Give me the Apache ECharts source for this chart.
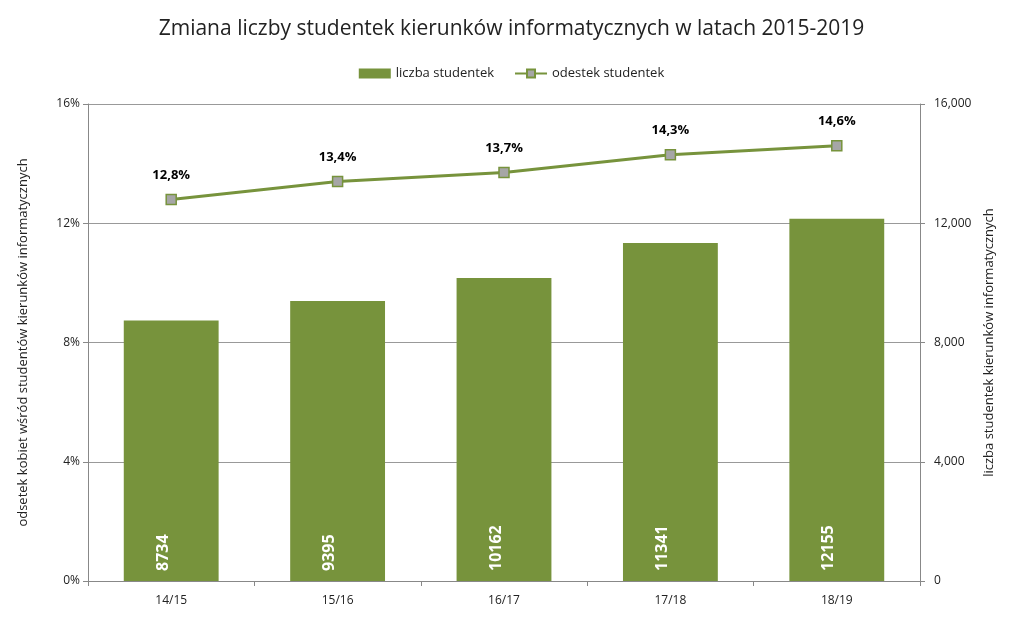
<!DOCTYPE html>
<html><head><meta charset="utf-8">
<script src="https://cdn.jsdelivr.net/npm/echarts@6/dist/echarts.min.js"></script>
<style>html,body{margin:0;padding:0;background:#fff}#c{width:1023px;height:623px}</style>
</head><body><div id="c"></div>
<script>
const categories = ['14/15','15/16','16/17','17/18','18/19'];
const liczba = [8734, 9395, 10162, 11341, 12155];
const odsetek = [12.8, 13.4, 13.7, 14.3, 14.6];
const ff = '"Open Sans", "Noto Sans", sans-serif';
const chart = echarts.init(document.getElementById('c'));
chart.setOption({
  textStyle:{fontFamily:ff},
  title:{text:'Zmiana liczby studentek kierunków informatycznych w latach 2015-2019',left:'center',top:14,
    textStyle:{fontFamily:ff,fontSize:21,fontWeight:'normal',color:'#222'}},
  legend:{top:62,left:'center',itemGap:20,textStyle:{fontSize:13,color:'#222'},
    data:[{name:'liczba studentek',icon:'rect'},{name:'odestek studentek'}],itemWidth:32,itemHeight:10},
  grid:{left:88,right:103,top:104,bottom:42},
  xAxis:{type:'category',data:categories,axisTick:{show:true,alignWithLabel:false,lineStyle:{color:'#888'}},
    axisLine:{lineStyle:{color:'#888'}},axisLabel:{color:'#222',fontSize:12,margin:14}},
  yAxis:[
    {type:'value',min:0,max:16,interval:4,name:'odsetek kobiet wśród studentów kierunków informatycznych',
     nameLocation:'middle',nameRotate:90,nameGap:58,nameTextStyle:{fontSize:13,color:'#222'},
     axisLine:{show:true,lineStyle:{color:'#888'}},axisTick:{show:true,lineStyle:{color:'#888'}},
     axisLabel:{formatter:v=>v+'%',color:'#222',fontSize:12},splitLine:{lineStyle:{color:'#999'}}},
    {type:'value',min:0,max:16000,interval:4000,name:'liczba studentek kierunków informatycznych',
     nameLocation:'middle',nameRotate:90,nameGap:70,nameTextStyle:{fontSize:13,color:'#222',verticalAlign:'bottom'},
     axisLine:{show:true,lineStyle:{color:'#888'}},axisTick:{show:true,lineStyle:{color:'#888'}},
     axisLabel:{color:'#222',fontSize:12,margin:14},splitLine:{show:false}}
  ],
  series:[
    {name:'liczba studentek',type:'bar',yAxisIndex:1,data:liczba,barWidth:'57%',
     itemStyle:{color:'#77933C'},
     label:{show:true,position:'insideBottom',rotate:90,align:'left',verticalAlign:'middle',offset:[0,-8],distance:10,
       color:'#fff',fontWeight:'bold',fontSize:16}},
    {name:'odestek studentek',type:'line',yAxisIndex:0,data:odsetek,symbol:'rect',symbolSize:10,
     lineStyle:{color:'#77933C',width:3},itemStyle:{color:'#A6A6A6',borderColor:'#77933C',borderWidth:1.5},
     label:{show:true,position:'top',distance:12,formatter:p=>p.value.toFixed(1).replace('.',',')+'%',
       color:'#000',fontWeight:'bold',fontSize:13}}
  ]
});
</script></body></html>
